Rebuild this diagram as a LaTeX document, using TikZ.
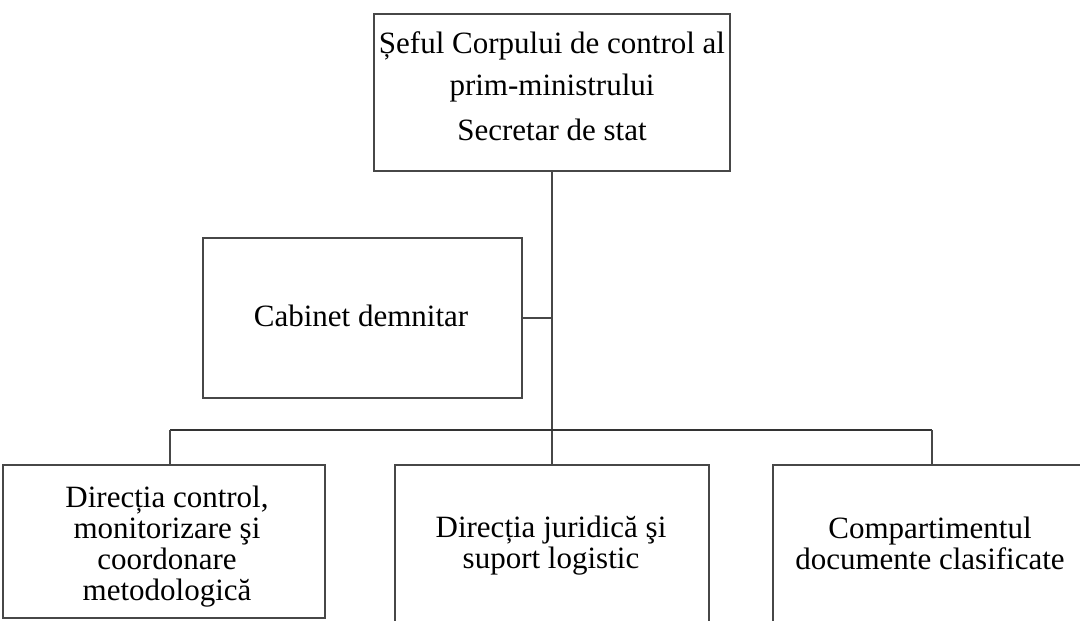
\documentclass[tikz,border=0pt]{standalone}
\usepackage{fontspec}
\setmainfont{Liberation Serif}
\tikzset{
  orgbox/.style={draw=black!72, line width=1.2pt, rectangle, inner sep=0pt},
  lbl/.style={inner sep=0pt, align=center, font=\fontsize{31}{31}\selectfont, text=black},
  link/.style={draw=black!72, line width=1.3pt},
  bus/.style={draw=black!80, line width=1.8pt}
}
\begin{document}
\begin{tikzpicture}[x=1pt,y=-1pt]
\useasboundingbox (0,0) rectangle (1080,621);
\clip (0,0) rectangle (1080,621);
% boxes
\node[orgbox, minimum width=356pt, minimum height=157pt] (top) at (552,92.5) {};
\node[orgbox, minimum width=319pt, minimum height=160pt] (cab) at (362.5,318) {};
\node[orgbox, minimum width=322pt, minimum height=153pt] (left) at (164,541.5) {};
\node[orgbox, minimum width=314pt, minimum height=175pt] (mid) at (552,552.5) {};
\node[orgbox, minimum width=314pt, minimum height=175pt] (right) at (930,552.5) {};
% texts
\node[lbl, font=\fontsize{31}{42}\selectfont, anchor=base] (toptext) at (552,140)
  {Șeful Corpului de control al\\prim-ministrului\\[3pt]Secretar de stat};
\node[lbl, anchor=base] (cabtext) at (361,326) {Cabinet demnitar};
\node[lbl, anchor=base] (lefttext) at (167,600)
  {Direcția control,\\monitorizare şi\\coordonare\\metodologică};
\node[lbl, anchor=base] (midtext) at (551,568) {Direcția juridică şi\\suport logistic};
\node[lbl, anchor=base] (righttext) at (930,569) {Compartimentul\\documente clasificate};
% connectors
\coordinate (busL) at (170,430);
\coordinate (busR) at (932,430);
\draw[link] (top.south) -- (mid.north);
\draw[link] (cab.east) -- (cab.east -| top.south);
\draw[bus] (busL) -- (busR);
\draw[link] (busL) -- (busL |- left.north);
\draw[link] (busR) -- (busR |- right.north);
\end{tikzpicture}
\end{document}
